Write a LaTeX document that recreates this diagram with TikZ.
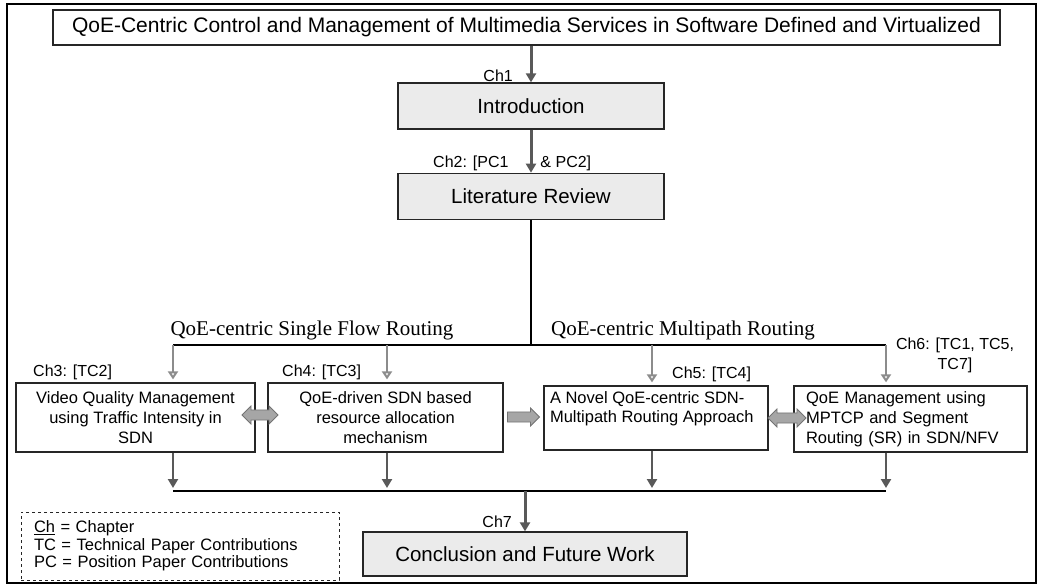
\documentclass[tikz,border=0pt]{standalone}
\usepackage{fontspec}
\setmainfont{Liberation Sans}
\newfontfamily\timesfont{Liberation Serif}
\usetikzlibrary{positioning,arrows.meta,shapes.arrows}

\tikzset{
  box/.style={rectangle,draw=black!85,line width=1.3pt,inner sep=0pt},
  grey box/.style={box,fill=black!8,font=\fontsize{20.5}{24}\selectfont},
  ch box/.style={box,fill=white,align=center,font=\fontsize{16.5}{20}\selectfont},
  lbl/.style={inner sep=0pt,font=\fontsize{16}{19}\selectfont},
  route/.style={inner sep=0pt,font=\timesfont\fontsize{21}{24}\selectfont},
  main arr/.style={draw=black!65,line width=3pt,-{Triangle[width=10pt,length=9pt]}},
  sub arr/.style={draw=black!45,line width=2.5pt,shorten >=3pt,-{Triangle[open,width=10pt,length=8pt]}},
  out arr/.style={draw=black!65,line width=2.5pt,shorten >=3pt,-{Triangle[width=10pt,length=9pt]}},
  blk/.style={fill=black!35,draw=black!55,thick,minimum width=18pt,inner sep=3.5pt,
    double arrow head extend=3pt,single arrow head extend=3pt}
}

\begin{document}
\begin{tikzpicture}[x=1pt,y=-1pt]
\useasboundingbox (0,0) rectangle (1038,586);
\draw[line width=2pt] (7,4) rectangle (1036,583);

\node[box,minimum width=947pt,minimum height=35pt,font=\fontsize{21}{24}\selectfont] (title) at (526.5,27.5) {QoE-Centric Control and Management of Multimedia Services in Software Defined and Virtualized};
\node[grey box,minimum width=266pt,minimum height=46pt] (intro) at (531,106) {Introduction};
\node[grey box,minimum width=266pt,minimum height=46pt,below=43pt of intro] (litrev) {Literature Review};

\node[ch box,minimum width=239pt,minimum height=69pt] (ch3) at (135.5,417.5) {Video Quality Management\\using Traffic Intensity in\\SDN};
\node[ch box,minimum width=235pt,minimum height=69pt] (ch4) at (385.5,417.5) {QoE-driven SDN based\\resource allocation\\mechanism};
\node[ch box,inner sep=6pt] (ch5) at (656,418) {\parbox[c][52pt][t]{212pt}{\baselineskip=19pt A Novel QoE-centric SDN-\\Multipath Routing Approach}};
\node[ch box,align=left,text width=209pt,inner xsep=12pt,minimum height=66pt] (ch6) at (910.5,419) {QoE Management using\\MPTCP and Segment\\Routing (SR) in SDN/NFV};
\node[grey box,minimum width=324pt,minimum height=44pt] (concl) at (525,554) {Conclusion and Future Work};

\node[box,dashed,line width=1pt,inner xsep=13pt,minimum height=68pt,text width=292pt,align=left,font=\fontsize{16.5}{17.5}\selectfont] (legend) at (180,546) {\underline{Ch} = Chapter\\TC = Technical Paper Contributions\\PC = Position Paper Contributions};

% chapter labels
\node[lbl,anchor=east] (l1) at (513,76) {Ch1};
\node[lbl,anchor=west] (l2) at (433,163) {Ch2: [PC1\hspace{32pt}\& PC2]};
\node[lbl,anchor=west] (l3) at (33,372) {Ch3: [TC2]};
\node[lbl,anchor=west] (l4) at (282,372) {Ch4: [TC3]};
\node[lbl,anchor=west] (l5) at (672,374) {Ch5: [TC4]};
\node[lbl,align=center,font=\fontsize{16}{20}\selectfont] (l6) at (955,355) {Ch6: [TC1, TC5,\\TC7]};
\node[lbl,anchor=east] (l7) at (512,522) {Ch7};
\node[route] (single) at (312,330) {QoE-centric Single Flow Routing};
\node[route] (multi) at (683,330) {QoE-centric Multipath Routing};

\draw[main arr] (title.south -| intro) -- (intro.north);
\draw[main arr] (intro.south) -- (litrev.north);

\coordinate (t3) at (173,345);
\coordinate (t4) at (387,345);
\coordinate (t5) at (652,345);
\coordinate (t6) at (886,345);
\coordinate (b3) at (173,491);
\coordinate (b4) at (387,491);
\coordinate (b5) at (652,491);
\coordinate (b6) at (886,491);

\draw[line width=2pt] (litrev.south) -- (litrev.south |- t3);
\draw[line width=1.8pt] (t3) -- (t6);
\draw[sub arr] (t3) -- (t3 |- ch3.north);
\draw[sub arr] (t4) -- (t4 |- ch4.north);
\draw[sub arr] (t5) -- (t5 |- ch5.north);
\draw[sub arr] (t6) -- (t6 |- ch6.north);

\draw[out arr] (ch3.south -| b3) -- (b3);
\draw[out arr] (ch4.south -| b4) -- (b4);
\draw[out arr] (ch5.south -| b5) -- (b5);
\draw[out arr] (ch6.south -| b6) -- (b6);
\draw[line width=1.8pt] (b3) -- (b6);
\draw[main arr] (b3 -| concl) -- (concl.north);

\node[blk,double arrow,minimum height=36pt] (a34) at (260,415) {};
\node[blk,single arrow,minimum height=32pt] (a45) at (521,417) {};
\node[blk,double arrow,minimum height=38pt] (a56) at (787,418) {};
\end{tikzpicture}
\end{document}
